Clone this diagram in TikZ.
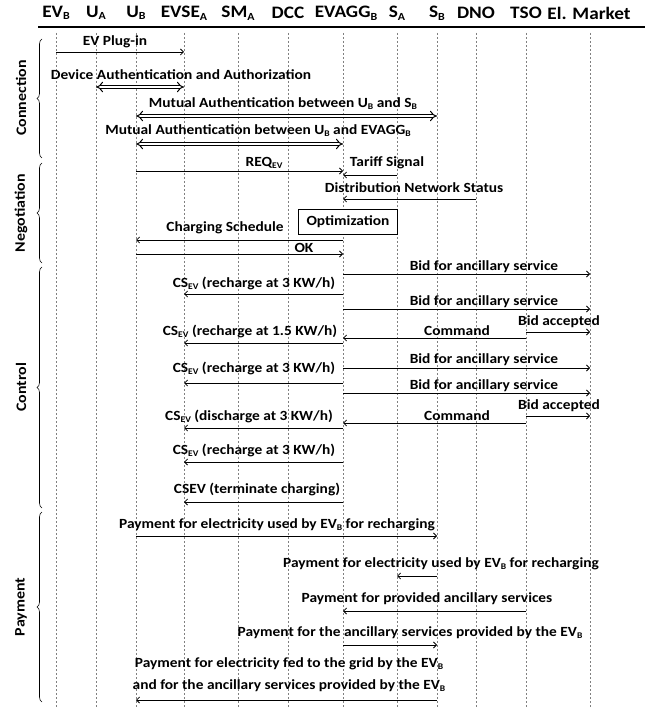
\documentclass[tikz,border=0pt]{standalone}
\usepackage{graphicx}
\usepackage{fontspec}
\setmainfont{Carlito}[FakeStretch=1.1]
\usetikzlibrary{arrows.meta,decorations.pathreplacing}
\newcommand{\lowsc}[1]{\raisebox{-0.3ex}{\scalebox{0.62}{#1}}}
\tikzset{
	head/.style={font=\fontsize{17.5}{17.5}\selectfont\bfseries, inner sep=0pt},
	lbl/.style={font=\fontsize{14}{14}\selectfont\bfseries, inner sep=0pt},
	life/.style={gray, dash pattern=on 2pt off 2pt, line width=0.5pt},
	msg/.style={-{Straight Barb[length=3pt,width=6pt]}, line width=0.8pt},
	auth/.style={{Implies}-{Implies}, double, double distance=2.6pt, line width=1pt},
	phase/.style={font=\fontsize{14.5}{14.5}\selectfont\bfseries, rotate=90, inner sep=0pt},
	bracket/.style={decorate, decoration={brace, amplitude=5pt}, line width=0.6pt},
}
\begin{document}
\begin{tikzpicture}[x=1pt,y=-1pt]
		\useasboundingbox (0,0) rectangle (645,708);
		% lifelines
		\foreach \n/\x in {EVb/56, Ua/96, Ub/136, EVSEa/184, SMa/238, DCC/288, EVAGGb/343, Sa/397, Sb/437, DNO/476, TSO/526, Mkt/590} {
			\coordinate (\n) at (\x,33);
			\coordinate (\n-end) at (\x,708);
			\draw[life] (\n) -- (\n-end);
		}
		\node[head] (hEVb) at (56,13) {EV\lowsc{B}};
		\node[head] (hUa) at (96,13) {U\lowsc{A}};
		\node[head] (hUb) at (136,13) {U\lowsc{B}};
		\node[head] (hEVSEa) at (184,13) {EVSE\lowsc{A}};
		\node[head] (hSMa) at (238,13) {SM\lowsc{A}};
		\node[head] (hDCC) at (288,13) {DCC};
		\node[head] (hEVAGGb) at (346,13) {EVAGG\lowsc{B}};
		\node[head] (hSa) at (397,13) {S\lowsc{A}};
		\node[head] (hSb) at (437,13) {S\lowsc{B}};
		\node[head] (hDNO) at (476,13) {DNO};
		\node[head] (hTSO) at (526,13) {TSO};
		\node[head] (hMkt) at (589,13) {El. Market};
		\draw[line width=2.5pt] (38,27) -- (645,27);
		% phases
		\draw[bracket] (42,158) -- (42,39);
		\draw[bracket] (42,263) -- (42,163);
		\draw[bracket] (42,508) -- (42,267);
		\draw[bracket] (42,702) -- (42,512);
		\node[phase] (pConn) at (21,98) {Connection};
		\node[phase] (pNeg) at (21,213) {Negotiation};
		\node[phase] (pCtrl) at (21,387) {Control};
		\node[phase] (pPay) at (21,607) {Payment};
		% connection
		\node[lbl] (tPlug) at (115,42) {EV Plug-in};
		\draw[msg] (EVb |- 0,52) -- (EVSEa |- 0,52);
		\node[lbl] (tDev) at (181,75) {Device Authentication and Authorization};
		\draw[auth] (Ua |- 0,87) -- (EVSEa |- 0,87);
		\node[lbl] (tMutS) at (283,104) {Mutual Authentication between U\lowsc{B} and S\lowsc{B}};
		\draw[auth] (Ub |- 0,116) -- (Sb |- 0,116);
		\node[lbl] (tMutA) at (258,131) {Mutual Authentication between U\lowsc{B} and EVAGG\lowsc{B}};
		\draw[auth] (Ub |- 0,144) -- (EVAGGb |- 0,144);
		% negotiation
		\node[lbl] (tReq) at (264,163) {REQ\lowsc{EV}};
		\draw[msg] (Ub |- 0,171) -- (EVAGGb |- 0,171);
		\node[lbl] (tTar) at (387,163) {Tariff Signal};
		\draw[msg] (Sa |- 0,175) -- (EVAGGb |- 0,175);
		\node[lbl] (tDns) at (414,188) {Distribution Network Status};
		\draw[msg] (DNO |- 0,199) -- (EVAGGb |- 0,199);
		\node[lbl, draw, fill=white, line width=1pt, minimum width=99pt, minimum height=25pt] (opt) at (348,222) {Optimization};
		\node[lbl] (tSched) at (225,228) {Charging Schedule};
		\draw[msg] (EVAGGb |- 0,240) -- (Ub |- 0,240);
		\node[lbl] (tOk) at (304,248) {OK};
		\draw[msg] (Ub |- 0,254) -- (EVAGGb |- 0,254);
		% control
		\node[lbl] (tBid1) at (484,267) {Bid for ancillary service};
		\draw[msg] (EVAGGb |- 0,274) -- (Mkt |- 0,274);
		\node[lbl] (tCs1) at (254,283) {CS\lowsc{EV} (recharge at 3 KW/h)};
		\draw[msg] (EVAGGb |- 0,294) -- (EVSEa |- 0,294);
		\node[lbl] (tBid2) at (484,302) {Bid for ancillary service};
		\draw[msg] (EVAGGb |- 0,309) -- (Mkt |- 0,309);
		\node[lbl] (tAcc1) at (559,322) {Bid accepted};
		\draw[msg] (TSO |- 0,332) -- (Mkt |- 0,332);
		\node[lbl] (tCs2) at (250,331) {CS\lowsc{EV} (recharge at 1.5 KW/h)};
		\node[lbl] (tCmd1) at (457,331) {Command};
		\draw[msg] (TSO |- 0,338) -- (EVAGGb |- 0,338);
		\draw[msg] (EVAGGb |- 0,343) -- (EVSEa |- 0,343);
		\node[lbl] (tBid3) at (484,360) {Bid for ancillary service};
		\draw[msg] (EVAGGb |- 0,368) -- (Mkt |- 0,368);
		\node[lbl] (tCs3) at (254,368) {CS\lowsc{EV} (recharge at 3 KW/h)};
		\draw[msg] (EVAGGb |- 0,383) -- (EVSEa |- 0,383);
		\node[lbl] (tBid4) at (484,386) {Bid for ancillary service};
		\draw[msg] (EVAGGb |- 0,393) -- (Mkt |- 0,393);
		\node[lbl] (tAcc2) at (559,406) {Bid accepted};
		\draw[msg] (TSO |- 0,416) -- (Mkt |- 0,416);
		\node[lbl] (tCs4) at (249,416) {CS\lowsc{EV} (discharge at 3 KW/h)};
		\node[lbl] (tCmd2) at (457,416) {Command};
		\draw[msg] (TSO |- 0,423) -- (EVAGGb |- 0,423);
		\draw[msg] (EVAGGb |- 0,428) -- (EVSEa |- 0,428);
		\node[lbl] (tCs5) at (254,450) {CS\lowsc{EV} (recharge at 3 KW/h)};
		\draw[msg] (EVAGGb |- 0,462) -- (EVSEa |- 0,462);
		\node[lbl] (tCs6) at (257,489) {CSEV (terminate charging)};
		\draw[msg] (EVAGGb |- 0,502) -- (EVSEa |- 0,502);
		% payment
		\node[lbl] (tPay1) at (277,525) {Payment for electricity used by EV\lowsc{B} for recharging};
		\draw[msg] (Ub |- 0,536) -- (Sb |- 0,536);
		\node[lbl] (tPay2) at (441,564) {Payment for electricity used by EV\lowsc{B} for recharging};
		\draw[msg] (Sb |- 0,576) -- (Sa |- 0,576);
		\node[lbl] (tPay3) at (427,599) {Payment for provided ancillary services};
		\draw[msg] (TSO |- 0,611) -- (EVAGGb |- 0,611);
		\node[lbl] (tPay4) at (410,633) {Payment for the ancillary services provided by the EV\lowsc{B}};
		\draw[msg] (EVAGGb |- 0,645) -- (Sb |- 0,645);
		\node[lbl, align=center, font=\fontsize{14}{22}\selectfont\bfseries] (tPay5) at (289,675) {Payment for electricity fed to the grid by the EV\lowsc{B}\\and for the ancillary services provided by the EV\lowsc{B}};
		\draw[msg] (Sb |- 0,700) -- (Ub |- 0,700);
	\end{tikzpicture}
\end{document}
